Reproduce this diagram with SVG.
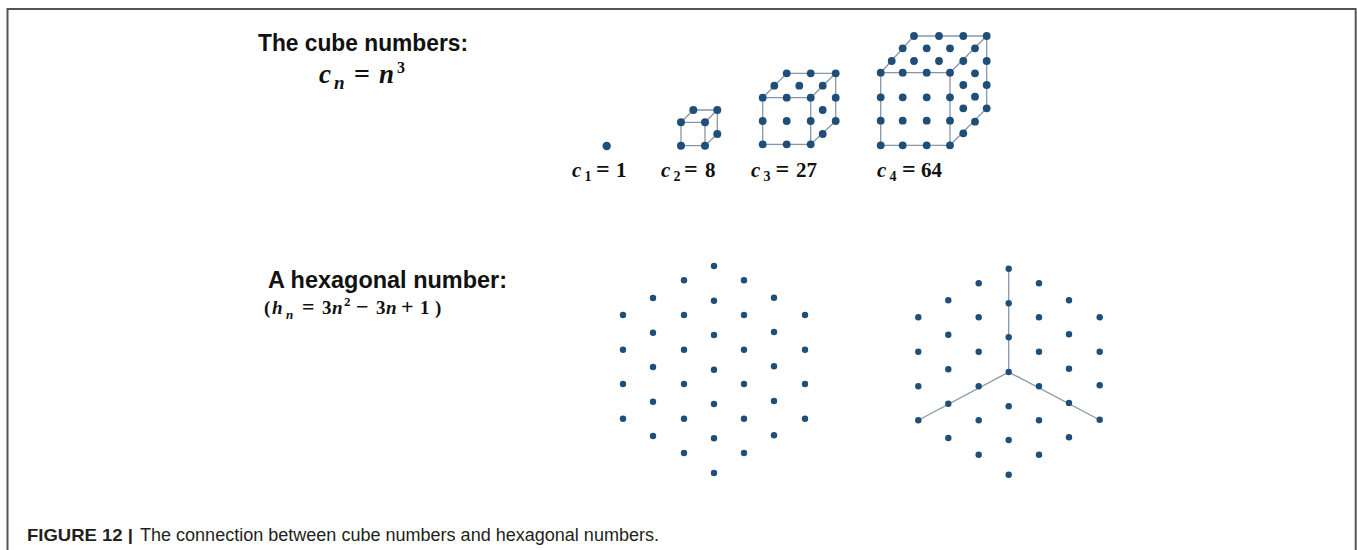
<svg xmlns="http://www.w3.org/2000/svg" width="1357" height="550" viewBox="0 0 1357 550">
<style>
.d{fill:#1f4e79}
.e{stroke:#8797aa;stroke-width:1.3;fill:none}
.h{font-family:"Liberation Sans",Arial,sans-serif;font-weight:bold;fill:#111}
.m{font-family:"Liberation Serif","Times New Roman",serif;font-weight:bold;font-style:italic;fill:#111}
.u{font-style:normal}
.cap{font-family:"Liberation Sans",Arial,sans-serif;fill:#231f20}
</style>
<rect width="1357" height="550" fill="#fff"/>
<path d="M7.5,550 V9 H1355.7 V550" fill="none" stroke="#555" stroke-width="2"/>

<g id="title-cube">
<text class="h" x="258" y="51" font-size="23.5" textLength="210" lengthAdjust="spacingAndGlyphs">The cube numbers:</text>
<text class="m" font-size="27"><tspan x="319" y="83">c</tspan><tspan x="334" y="89" font-size="19">n</tspan><tspan class="u" x="354" y="83" font-size="28">=</tspan><tspan x="379" y="83">n</tspan><tspan class="u" x="397" y="73" font-size="16">3</tspan></text>
</g>

<g id="cube-1">
<circle class="d" cx="606.7" cy="146" r="4.2"/>
<text class="m" font-size="21"><tspan x="572" y="177">c</tspan><tspan class="u" x="584.5" y="181" font-size="14">1</tspan><tspan class="u" x="596" y="177" font-size="24">=</tspan><tspan class="u" x="616" y="177">1</tspan></text>
</g>

<g id="cube-2">
<path class="e" d="M681,122.3H705V145.7H681Z M681,122.3L693.3,110H717.3V134L705,145.7 M705,122.3L717.3,110"/>
<g class="d">
<circle cx="681" cy="122.3" r="4"/><circle cx="705" cy="122.3" r="4"/><circle cx="681" cy="145.7" r="4"/><circle cx="705" cy="145.7" r="4"/>
<circle cx="693.3" cy="110" r="4"/><circle cx="717.3" cy="110" r="4"/><circle cx="717.3" cy="134" r="4"/>
</g>
<text class="m" font-size="21"><tspan x="661" y="177">c</tspan><tspan class="u" x="673.5" y="181" font-size="14">2</tspan><tspan class="u" x="684" y="177" font-size="24">=</tspan><tspan class="u" x="705" y="177">8</tspan></text>
</g>

<g id="cube-3">
<path class="e" d="M762.7,97.7H810.7V144.3H762.7Z M762.7,97.7L786.7,73.3H835.7V121L810.7,144.3 M810.7,97.7L835.7,73.3"/>
<g class="d">
<circle cx="786.7" cy="73.3" r="3.9"/><circle cx="810.7" cy="73.3" r="3.9"/><circle cx="835.7" cy="73.3" r="3.9"/>
<circle cx="774.3" cy="85.7" r="3.9"/><circle cx="799.3" cy="85.7" r="3.9"/><circle cx="822.7" cy="85.7" r="3.9"/>
<circle cx="762.7" cy="97.7" r="3.9"/><circle cx="786.7" cy="97.7" r="3.9"/><circle cx="810.7" cy="97.7" r="3.9"/><circle cx="835.7" cy="97.7" r="3.9"/>
<circle cx="822.7" cy="110" r="3.9"/>
<circle cx="762.7" cy="121" r="3.9"/><circle cx="786.7" cy="121" r="3.9"/><circle cx="810.7" cy="121" r="3.9"/><circle cx="835.7" cy="121" r="3.9"/>
<circle cx="822.7" cy="134" r="3.9"/>
<circle cx="762.7" cy="144.3" r="3.9"/><circle cx="786.7" cy="144.3" r="3.9"/><circle cx="810.7" cy="144.3" r="3.9"/>
</g>
<text class="m" font-size="21"><tspan x="751" y="177">c</tspan><tspan class="u" x="763.5" y="181" font-size="14">3</tspan><tspan class="u" x="775.5" y="177" font-size="24">=</tspan><tspan class="u" x="796" y="177">27</tspan></text>
</g>

<g id="cube-4">
<path class="e" d="M880.7,72.7H950V145.3H880.7Z M880.7,72.7L914,36H986.7V108.3L950,145.3 M950,72.7L986.7,36"/>
<g class="d">
<circle cx="914" cy="36" r="3.9"/><circle cx="939" cy="36" r="3.9"/><circle cx="963.3" cy="36" r="3.9"/><circle cx="986.7" cy="36" r="3.9"/>
<circle cx="902.7" cy="48.3" r="3.9"/><circle cx="926.7" cy="48.3" r="3.9"/><circle cx="950" cy="48.3" r="3.9"/><circle cx="975" cy="48.3" r="3.9"/>
<circle cx="891.7" cy="61" r="3.9"/><circle cx="914" cy="61" r="3.9"/><circle cx="939" cy="61" r="3.9"/><circle cx="963.3" cy="61" r="3.9"/><circle cx="986.7" cy="61" r="3.9"/>
<circle cx="880.7" cy="72.7" r="3.9"/><circle cx="902.7" cy="72.7" r="3.9"/><circle cx="926.7" cy="72.7" r="3.9"/><circle cx="950" cy="72.7" r="3.9"/><circle cx="975" cy="73.3" r="3.9"/>
<circle cx="963.3" cy="85" r="3.9"/><circle cx="986.7" cy="85" r="3.9"/>
<circle cx="880.7" cy="97.3" r="3.9"/><circle cx="902.7" cy="97.3" r="3.9"/><circle cx="926.7" cy="97.3" r="3.9"/><circle cx="950" cy="97.3" r="3.9"/><circle cx="975" cy="96.7" r="3.9"/>
<circle cx="963.3" cy="108.3" r="3.9"/><circle cx="986.7" cy="108.3" r="3.9"/>
<circle cx="880.7" cy="120.7" r="3.9"/><circle cx="902.7" cy="120.7" r="3.9"/><circle cx="926.7" cy="120.7" r="3.9"/><circle cx="950" cy="120.7" r="3.9"/><circle cx="975" cy="121.7" r="3.9"/>
<circle cx="963.3" cy="133.3" r="3.9"/>
<circle cx="880.7" cy="145.3" r="3.9"/><circle cx="902.7" cy="145.3" r="3.9"/><circle cx="926.7" cy="145.3" r="3.9"/><circle cx="950" cy="145.3" r="3.9"/>
</g>
<text class="m" font-size="21"><tspan x="877" y="177">c</tspan><tspan class="u" x="889.5" y="181" font-size="14">4</tspan><tspan class="u" x="902" y="177" font-size="24">=</tspan><tspan class="u" x="921" y="177">64</tspan></text>
</g>

<g id="title-hex">
<text class="h" x="268" y="288" font-size="24" textLength="239" lengthAdjust="spacingAndGlyphs">A hexagonal number:</text>
<text class="m" font-size="19"><tspan class="u" x="264" y="314">(</tspan><tspan x="272" y="314">h</tspan><tspan x="286" y="319" font-size="13">n</tspan><tspan class="u" x="302" y="314" font-size="22">=</tspan><tspan class="u" x="322" y="314">3</tspan><tspan x="332" y="314">n</tspan><tspan class="u" x="344" y="306" font-size="13">2</tspan><tspan class="u" x="356" y="314" font-size="22">−</tspan><tspan class="u" x="376" y="314">3</tspan><tspan x="386" y="314">n</tspan><tspan class="u" x="401" y="314" font-size="22">+</tspan><tspan class="u" x="420" y="314">1</tspan><tspan class="u" x="435" y="314">)</tspan></text>
</g>

<g id="hex-left" class="d">
<circle cx="623" cy="315" r="3.2"/><circle cx="623" cy="349.7" r="3.2"/><circle cx="623" cy="384" r="3.2"/><circle cx="623" cy="418.7" r="3.2"/>
<circle cx="653" cy="298" r="3.2"/><circle cx="653" cy="332.7" r="3.2"/><circle cx="653" cy="367" r="3.2"/><circle cx="653" cy="401.7" r="3.2"/><circle cx="653" cy="436" r="3.2"/>
<circle cx="684" cy="280.3" r="3.2"/><circle cx="684" cy="315" r="3.2"/><circle cx="684" cy="349.7" r="3.2"/><circle cx="684" cy="384" r="3.2"/><circle cx="684" cy="418.7" r="3.2"/><circle cx="684" cy="453" r="3.2"/>
<circle cx="714" cy="266" r="3.2"/><circle cx="714" cy="300.7" r="3.2"/><circle cx="714" cy="335" r="3.2"/><circle cx="714" cy="369.7" r="3.2"/><circle cx="714" cy="404" r="3.2"/><circle cx="714" cy="438.3" r="3.2"/><circle cx="714" cy="473" r="3.2"/>
<circle cx="744" cy="280.3" r="3.2"/><circle cx="744" cy="315" r="3.2"/><circle cx="744" cy="349.7" r="3.2"/><circle cx="744" cy="384" r="3.2"/><circle cx="744" cy="418.7" r="3.2"/><circle cx="744" cy="453" r="3.2"/>
<circle cx="774" cy="297.7" r="3.2"/><circle cx="774" cy="332" r="3.2"/><circle cx="774" cy="366.3" r="3.2"/><circle cx="774" cy="401" r="3.2"/><circle cx="774" cy="435.3" r="3.2"/>
<circle cx="805" cy="315" r="3.2"/><circle cx="805" cy="349.7" r="3.2"/><circle cx="805" cy="384" r="3.2"/><circle cx="805" cy="418.7" r="3.2"/>
</g>

<g id="connectors">
<path class="e" d="M1008.7,268.7V372L918.3,420.3 M1008.7,372L1099.7,420"/>
</g>

<g id="hex-right" class="d">
<circle cx="918.3" cy="317.3" r="3.2"/><circle cx="918.3" cy="351.7" r="3.2"/><circle cx="918.3" cy="386.3" r="3.2"/><circle cx="918.3" cy="420.3" r="3.2"/>
<circle cx="948.3" cy="300.3" r="3.2"/><circle cx="948.3" cy="334.7" r="3.2"/><circle cx="948.3" cy="369.3" r="3.2"/><circle cx="948.3" cy="403.7" r="3.2"/><circle cx="948.3" cy="438" r="3.2"/>
<circle cx="978.7" cy="283.3" r="3.2"/><circle cx="978.7" cy="317.3" r="3.2"/><circle cx="978.7" cy="351.7" r="3.2"/><circle cx="978.7" cy="386.3" r="3.2"/><circle cx="978.7" cy="420.3" r="3.2"/><circle cx="978.7" cy="454.7" r="3.2"/>
<circle cx="1008.7" cy="268.7" r="3.2"/><circle cx="1008.7" cy="303.3" r="3.2"/><circle cx="1008.7" cy="337.3" r="3.2"/><circle cx="1008.7" cy="372" r="3.2"/><circle cx="1008.7" cy="406.3" r="3.2"/><circle cx="1008.7" cy="440" r="3.2"/><circle cx="1008.7" cy="474.7" r="3.2"/>
<circle cx="1039" cy="283.3" r="3.2"/><circle cx="1039" cy="317.3" r="3.2"/><circle cx="1039" cy="351.7" r="3.2"/><circle cx="1039" cy="386.3" r="3.2"/><circle cx="1039" cy="420.3" r="3.2"/><circle cx="1039" cy="454.7" r="3.2"/>
<circle cx="1069" cy="300.3" r="3.2"/><circle cx="1069" cy="334.3" r="3.2"/><circle cx="1069" cy="368.7" r="3.2"/><circle cx="1069" cy="403" r="3.2"/><circle cx="1069" cy="437.3" r="3.2"/>
<circle cx="1099.7" cy="317.3" r="3.2"/><circle cx="1099.7" cy="351.7" r="3.2"/><circle cx="1099.7" cy="385.3" r="3.2"/><circle cx="1099.7" cy="419.7" r="3.2"/>
</g>

<g id="caption">
<text class="cap" x="27" y="541" font-size="17" font-weight="bold" textLength="106" lengthAdjust="spacingAndGlyphs">FIGURE 12 |</text>
<text class="cap" x="140" y="541" font-size="17.5" textLength="519" lengthAdjust="spacingAndGlyphs">The connection between cube numbers and hexagonal numbers.</text>
</g>
</svg>
